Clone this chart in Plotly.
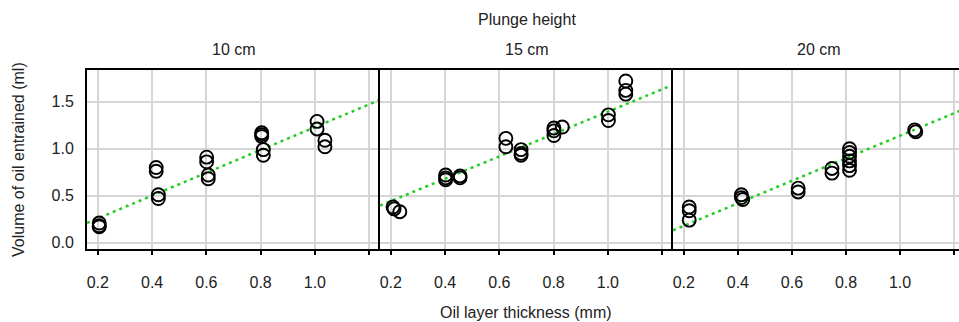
import numpy as np
import plotly.graph_objects as go

# Plunge heights (one panel each)
heights = ["10 cm", "15 cm", "20 cm"]

# Oil layer thickness (mm) and oil entrained (ml) per plunge height
x10 = [0.205, 0.205, 0.205, 0.415, 0.415, 0.423, 0.423, 0.601, 0.601, 0.607, 0.607,
       0.804, 0.804, 0.804, 0.810, 0.810, 1.008, 1.008, 1.037, 1.037]
y10 = [0.21, 0.18, 0.17, 0.80, 0.76, 0.51, 0.47, 0.91, 0.86, 0.72, 0.68,
       1.17, 1.15, 1.13, 0.99, 0.93, 1.29, 1.21, 1.09, 1.02]

x15 = [0.208, 0.212, 0.233, 0.402, 0.402, 0.402, 0.455, 0.455, 0.624, 0.624,
       0.680, 0.680, 0.680, 0.801, 0.801, 0.801, 0.832, 1.002, 1.002, 1.066, 1.066, 1.066]
y15 = [0.38, 0.36, 0.33, 0.72, 0.69, 0.67, 0.71, 0.69, 1.11, 1.02,
       0.99, 0.95, 0.93, 1.22, 1.19, 1.14, 1.23, 1.36, 1.30, 1.72, 1.62, 1.58]

x20 = [0.220, 0.220, 0.220, 0.413, 0.413, 0.418, 0.623, 0.623, 0.748, 0.748,
       0.813, 0.813, 0.813, 0.813, 0.813, 0.813, 1.054, 1.058]
y20 = [0.38, 0.34, 0.24, 0.51, 0.48, 0.46, 0.58, 0.54, 0.79, 0.74,
       1.00, 0.96, 0.92, 0.87, 0.82, 0.77, 1.20, 1.18]

# Fitted linear trend per plunge height: volume = intercept + slope * thickness
fit_slope = [1.213, 1.189, 1.198]
fit_intercept = [0.016, 0.205, -0.060]

# Axis settings
x_range = [0.16, 1.24]
x_range_last = [0.16, 1.218]
y_range = [-0.067, 1.837]
x_tickvals = [0.2, 0.4, 0.6, 0.8, 1.0, 1.2]
x_ticktext = ["0.2", "0.4", "0.6", "0.8", "1.0", ""]
y_tickvals = [0.0, 0.5, 1.0, 1.5]
y_ticktext = ["0.0", "0.5", "1.0", "1.5"]

xs_all = [x10, x15, x20]
ys_all = [y10, y15, y20]
domains = [[0, 293 / 872], [293 / 872, 586 / 872], [586 / 872, 1.0]]
ranges = [x_range, x_range, x_range_last]

FONT = "Liberation Sans, Arial, sans-serif"
TXT = "#222222"
GRID = "#d6d6d6"

fig = go.Figure()

for i in range(3):
    xa = "x" if i == 0 else f"x{i + 1}"
    ya = "y" if i == 0 else f"y{i + 1}"
    # trend line across the whole panel
    lx = np.array(x_range)
    ly = fit_intercept[i] + fit_slope[i] * lx
    fig.add_trace(go.Scatter(
        x=lx, y=ly, mode="lines", xaxis=xa, yaxis=ya,
        line=dict(color="#22cc22", width=2.5, dash="3px,4px"),
        showlegend=False, hoverinfo="skip"))
    # observations
    fig.add_trace(go.Scatter(
        x=xs_all[i], y=ys_all[i], mode="markers", xaxis=xa, yaxis=ya,
        marker=dict(symbol="circle-open", size=13, color="black",
                    line=dict(color="black", width=1.9)),
        showlegend=False))

axis_common = dict(
    showline=True, linecolor="black", linewidth=2,
    showgrid=True, gridcolor=GRID, gridwidth=2,
    zeroline=False,
    tickfont=dict(family=FONT, size=16, color=TXT),
)

layout = dict(
    width=959, height=322,
    margin=dict(l=87, r=0, t=70, b=73),
    paper_bgcolor="white", plot_bgcolor="white",
    font=dict(family=FONT, size=16, color=TXT),
)

for i in range(3):
    xk = "xaxis" if i == 0 else f"xaxis{i + 1}"
    yk = "yaxis" if i == 0 else f"yaxis{i + 1}"
    layout[xk] = dict(
        axis_common, domain=domains[i], range=ranges[i],
        anchor="y" if i == 0 else f"y{i + 1}",
        tickmode="array", tickvals=x_tickvals, ticktext=x_ticktext,
        ticks="outside", ticklen=4, tickwidth=1.5, tickcolor="black",
        mirror=True, ticklabelstandoff=14,
    )
    layout[yk] = dict(
        axis_common, domain=[0, 1], range=y_range,
        anchor="x" if i == 0 else f"x{i + 1}",
        tickmode="array", tickvals=y_tickvals, ticktext=y_ticktext,
        ticks="", mirror=False, showticklabels=(i == 0),
        ticklabelstandoff=8,
    )

fig.update_layout(**layout)

# Titles and panel strip labels
panel_centres = [(233.5 - 87) / 872, (526.5 - 87) / 872, (819 - 87) / 872]
annotations = []
for c, h in zip(panel_centres, heights):
    annotations.append(dict(
        text=h, x=c, y=(249 - 50) / 179, xref="paper", yref="paper",
        xanchor="center", yanchor="middle", showarrow=False,
        font=dict(family=FONT, size=16, color=TXT)))
annotations.append(dict(
    text="Plunge height", x=(527 - 87) / 872, y=(249 - 20) / 179,
    xref="paper", yref="paper", xanchor="center", yanchor="middle",
    showarrow=False, font=dict(family=FONT, size=16, color=TXT)))
annotations.append(dict(
    text="Oil layer thickness (mm)", x=(526 - 87) / 872, y=(249 - 312) / 179,
    xref="paper", yref="paper", xanchor="center", yanchor="middle",
    showarrow=False, font=dict(family=FONT, size=16, color=TXT)))
annotations.append(dict(
    text="Volume of oil entrained (ml)", x=(18 - 87) / 872, y=(249 - 160) / 179,
    xref="paper", yref="paper", xanchor="center", yanchor="middle",
    textangle=-90, showarrow=False, font=dict(family=FONT, size=16, color=TXT)))
fig.update_layout(annotations=annotations)

fig.write_html("out.html")
